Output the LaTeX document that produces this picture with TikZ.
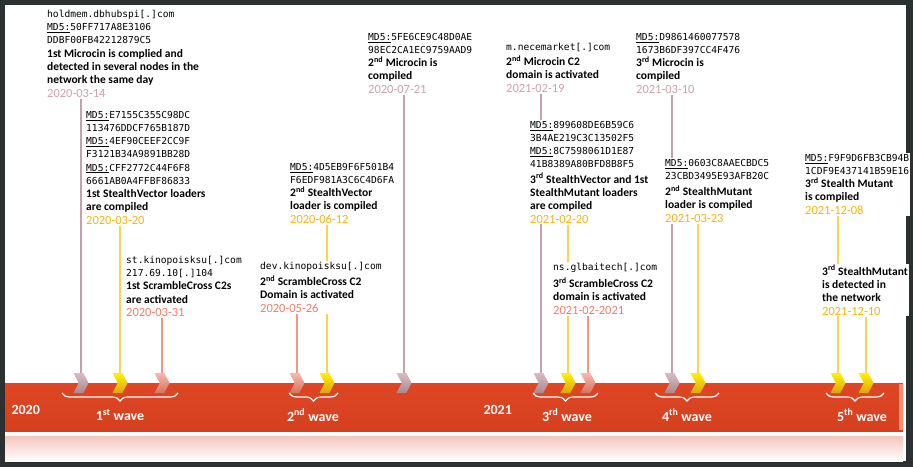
\documentclass[tikz,border=0pt]{standalone}
\usepackage{fontspec}
\setmainfont{Carlito}
\newfontfamily\hashfont{DejaVu Sans Mono}
\usepackage{xcolor}
\usepackage{tikz}
\usetikzlibrary{shapes.symbols, decorations.pathreplacing, backgrounds}
\definecolor{frame}{RGB}{43,49,49}
\definecolor{mauve}{RGB}{200,160,170}
\definecolor{mauvedate}{RGB}{206,162,172}
\definecolor{gold}{RGB}{246,182,14}
\definecolor{goldline}{RGB}{250,212,80}
\definecolor{salmon}{RGB}{239,127,106}
\definecolor{salmonline}{RGB}{241,152,132}
\definecolor{bartop}{RGB}{222,70,36}
\definecolor{barmid}{RGB}{246,94,54}
\definecolor{barbot}{RGB}{214,64,30}
\definecolor{glow}{RGB}{244,198,190}

\newcommand{\hashline}[1]{{\hashfont\fontsize{9.6}{12}\selectfont #1}}
\newcommand{\mdsum}[1]{\hashline{\underline{MD5:}#1}}
\newcommand{\descline}[1]{{\fontsize{11.5}{14}\selectfont\bfseries #1}}
\newcommand{\dateline}[2]{{\fontsize{12.5}{14}\selectfont\color{#1}#2}}

\begin{document}
\begin{tikzpicture}[x=1pt, y=-1pt,
  event/.style={fill=white, align=left, inner sep=1pt, anchor=north west, font=\fontsize{10}{13.2}\selectfont},
  chev/.style={signal, signal from=west, signal to=east, signal pointer angle=125, minimum width=15pt, minimum height=20pt, inner sep=0pt},
  chevmauve/.style={chev, top color=mauve!70!white, bottom color=mauve!85!black},
  chevgold/.style={chev, top color=yellow!90!orange, bottom color=gold!90!black},
  chevsalmon/.style={chev, top color=salmon!55!white, bottom color=salmon!90!black},
  link/.style={line width=1.6pt},
  wave/.style={white, line width=1.2pt, decorate, decoration={brace, mirror, amplitude=8pt}},
  wavelabel/.style={text=white, font=\fontsize{14}{16}\selectfont\bfseries}]
  \useasboundingbox (0,0) rectangle (913,467);

  % 2020 events
  \node[event] (e1) at (46,9) {\hashline{holdmem.dbhubspi[.]com}\\
    \mdsum{50FF717A8E3106}\\
    \hashline{DDBF00FB42212879C5}\\
    \descline{1st Microcin is complied and}\\
    \descline{detected in several nodes in the}\\
    \descline{network the same day}\\[0.5pt]
    \dateline{mauvedate}{2020-03-14}};
  \node[event] (e2) at (85,110) {\mdsum{E7155C355C98DC}\\
    \hashline{113476DDCF765B187D}\\
    \mdsum{4EF90CEEF2CC9F}\\
    \hashline{F3121B34A9891BB28D}\\
    \mdsum{CFF2772C44F6F8}\\
    \hashline{6661AB0A4FFBF86833}\\
    \descline{1st StealthVector loaders}\\
    \descline{are compiled}\\[0.5pt]
    \dateline{gold}{2020-03-20}};
  \node[event] (e3) at (125,255) {\hashline{st.kinopoisksu[.]com}\\
    \hashline{217.69.10[.]104}\\
    \descline{1st ScrambleCross C2s}\\
    \descline{are activated}\\[0.5pt]
    \dateline{salmon}{2020-03-31}};
  \node[event] (e4) at (289,162) {\mdsum{4D5EB9F6F501B4}\\
    \hashline{F6EDF981A3C6C4D6FA}\\
    \descline{2\textsuperscript{nd} StealthVector}\\
    \descline{loader is compiled}\\[0.5pt]
    \dateline{gold}{2020-06-12}};
  \node[event] (e5) at (259,261) {\hashline{dev.kinopoisksu[.]com}\\[3pt]
    \descline{2\textsuperscript{nd} ScrambleCross C2}\\
    \descline{Domain is activated}\\[0.5pt]
    \dateline{salmon}{2020-05-26}};
  \node[event] (e6) at (367,32) {\mdsum{5FE6CE9C48D0AE}\\
    \hashline{98EC2CA1EC9759AAD9}\\
    \descline{2\textsuperscript{nd} Microcin is}\\
    \descline{compiled}\\[0.5pt]
    \dateline{mauvedate}{2020-07-21}};

  % 2021 events
  \node[event] (e7) at (505,42) {\hashline{m.necemarket[.]com}\\[2pt]
    \descline{2\textsuperscript{nd} Microcin C2}\\
    \descline{domain is activated}\\[0.5pt]
    \dateline{mauvedate}{2021-02-19}};
  \node[event] (e8) at (529,120) {\mdsum{899608DE6B59C6}\\
    \hashline{3B4AE219C3C13502F5}\\
    \mdsum{8C7598061D1E87}\\
    \hashline{41B8389A80BFD8B8F5}\\[2pt]
    \descline{3\textsuperscript{rd} StealthVector and 1st}\\
    \descline{StealthMutant loaders}\\
    \descline{are compiled}\\[0.5pt]
    \dateline{gold}{2021-02-20}};
  \node[event] (e13) at (552,262) {\hashline{ns.glbaitech[.]com}\\[4pt]
    \descline{3\textsuperscript{rd} ScrambleCross C2}\\
    \descline{domain is activated}\\[0.5pt]
    \dateline{salmon}{2021-02-2021}};
  \node[event] (e9) at (635,32) {\mdsum{D9861460077578}\\
    \hashline{1673B6DF397CC4F476}\\
    \descline{3\textsuperscript{rd} Microcin is}\\
    \descline{compiled}\\[0.5pt]
    \dateline{mauvedate}{2021-03-10}};
  \node[event] (e10) at (664,158) {\mdsum{0603C8AAECBDC5}\\
    \hashline{23CBD3495E93AFB20C}\\[3pt]
    \descline{2\textsuperscript{nd} StealthMutant}\\
    \descline{loader is compiled}\\[0.5pt]
    \dateline{gold}{2021-03-23}};
  \node[event] (e11) at (804,153) {\mdsum{F9F9D6FB3CB94B}\\
    \hashline{1CDF9E437141B59E16}\\
    \descline{3\textsuperscript{rd} Stealth Mutant}\\
    \descline{is compiled}\\[0.5pt]
    \dateline{gold}{2021-12-08}};
  \node[event] (e12) at (821,264) {\descline{3\textsuperscript{rd} StealthMutant}\\
    \descline{is detected in}\\
    \descline{the network}\\[0.5pt]
    \dateline{gold}{2021-12-10}};

  % Chevrons on the time bar
  \node[chevmauve] (c1) at (81,383) {};
  \node[chevgold] (c2) at (120,383) {};
  \node[chevsalmon] (c3) at (162,383) {};
  \node[chevsalmon] (c5) at (297,383) {};
  \node[chevgold] (c4) at (327,383) {};
  \node[chevmauve] (c6) at (404,383) {};
  \node[chevmauve] (c7) at (541,383) {};
  \node[chevgold] (c8) at (568,383) {};
  \node[chevsalmon] (c13) at (588,383) {};
  \node[chevmauve] (c9) at (672,383) {};
  \node[chevgold] (c10) at (698,383) {};
  \node[chevgold] (c11) at (838,383) {};
  \node[chevgold] (c12) at (866,383) {};

  \begin{pgfonlayer}{background}
    % Frame and time bar
    \fill[frame] (0,0) rectangle (913,467);
    \fill[white] (5,5) rectangle (906,461);
    \shade[top color=bartop, middle color=barmid, bottom color=barbot] (5,383) rectangle (903,431);
    \fill[barmid!70!white] (899,384) rectangle (903,430);
    \shade[top color=glow, bottom color=white] (5,436) rectangle (903,461);

    % Drop lines from each date to its chevron
    \draw[link, mauve] (c1.north) -- (c1.north |- e1.south);
    \draw[link, goldline] (c2.north) -- (c2.north |- e2.south);
    \draw[link, salmonline] (c3.north) -- (c3.north |- e3.south);
    \draw[link, goldline] (c4.north) -- (c4.north |- e4.south);
    \draw[link, salmonline] (c5.north) -- (c5.north |- e5.south);
    \draw[link, mauve] (c6.north) -- (c6.north |- e6.south);
    \draw[link, mauve] (c7.north) -- (c7.north |- e7.south);
    \draw[link, goldline] (c8.north) -- (c8.north |- e8.south);
    \draw[link, salmonline] (c13.north) -- (c13.north |- e13.south);
    \draw[link, mauve] (c9.north) -- (c9.north |- e9.south);
    \draw[link, goldline] (c10.north) -- (c10.north |- e10.south);
    \draw[link, goldline] (c11.north) -- (c11.north |- e11.south);
    \draw[link, goldline] (c12.north) -- (c12.north |- e12.south);
  \end{pgfonlayer}

  % Years and waves
  \node[wavelabel, anchor=west] (y2020) at (8,410) {2020};
  \node[wavelabel, anchor=west] (y2021) at (480,410) {2021};
  \draw[wave] (62,393) -- (178,393);
  \draw[wave] (289,393) -- (338,393);
  \draw[wave] (533,393) -- (598,393);
  \draw[wave] (655,393) -- (719,393);
  \draw[wave] (826,393) -- (884,393);
  \node[wavelabel] (w1) at (120,415) {1\textsuperscript{st} wave};
  \node[wavelabel] (w2) at (313,415) {2\textsuperscript{nd} wave};
  \node[wavelabel] (w3) at (567,415) {3\textsuperscript{rd} wave};
  \node[wavelabel] (w4) at (687,415) {4\textsuperscript{th} wave};
  \node[wavelabel] (w5) at (862,415) {5\textsuperscript{th} wave};
\end{tikzpicture}
\end{document}
